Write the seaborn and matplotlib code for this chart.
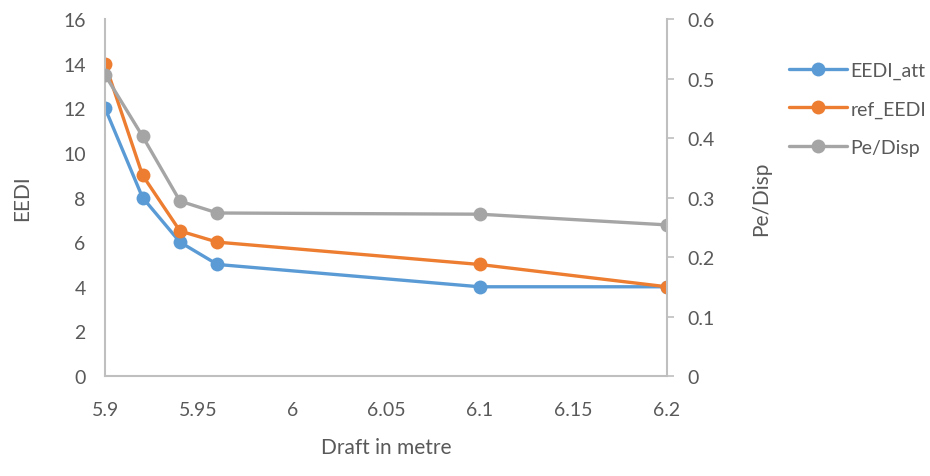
import matplotlib
matplotlib.use("Agg")
import matplotlib.pyplot as plt
from matplotlib.lines import Line2D
import seaborn as sns
import pandas as pd

# Draft values and the three measured series
draft = [5.9, 5.92, 5.94, 5.96, 6.1, 6.2]
eedi_att = [12, 8, 6, 5, 4, 4]
ref_eedi = [14, 9, 6.5, 6, 5, 4]
pe_disp = [0.506, 0.403, 0.294, 0.274, 0.272, 0.254]

x_ticks = [5.9, 5.95, 6.0, 6.05, 6.1, 6.15, 6.2]
x_tick_labels = ["5.9", "5.95", "6", "6.05", "6.1", "6.15", "6.2"]
left_ticks = [0, 2, 4, 6, 8, 10, 12, 14, 16]
right_ticks = [0, 0.1, 0.2, 0.3, 0.4, 0.5, 0.6]
right_tick_labels = ["0", "0.1", "0.2", "0.3", "0.4", "0.5", "0.6"]

sns.set_theme(style="white")
plt.rcParams["font.family"] = ["Lato", "DejaVu Sans"]

BLUE = "#5B9BD5"
ORANGE = "#ED7D31"
GRAY = "#A5A5A5"
TEXT = "#595959"
AXIS = "#BFBFBF"

df = pd.DataFrame({"draft": draft, "EEDI_att": eedi_att,
                   "ref_EEDI": ref_eedi, "Pe/Disp": pe_disp})

fig = plt.figure(figsize=(9.3, 4.77), dpi=100)
ax = fig.add_axes([0.113, 0.2096, 0.604, 0.7484])
ax2 = ax.twinx()

line_kw = dict(linewidth=2.4, marker="o", markersize=10, markeredgewidth=0)
sns.lineplot(data=df, x="draft", y="EEDI_att", ax=ax, color=BLUE, **line_kw)
sns.lineplot(data=df, x="draft", y="ref_EEDI", ax=ax, color=ORANGE, **line_kw)
sns.lineplot(data=df, x="draft", y="Pe/Disp", ax=ax2, color=GRAY, **line_kw)

ax.set_xlim(5.9, 6.2)
ax.set_ylim(0, 16)
ax2.set_ylim(0, 0.6)
ax.set_xticks(x_ticks)
ax.set_xticklabels(x_tick_labels)
ax.set_yticks(left_ticks)
ax2.set_yticks(right_ticks)
ax2.set_yticklabels(right_tick_labels)

for a in (ax, ax2):
    for s in a.spines.values():
        s.set_visible(False)
    a.grid(False)

ax.spines["left"].set_visible(True)
ax.spines["left"].set_color(AXIS)
ax.spines["left"].set_linewidth(1.5)
ax.spines["bottom"].set_visible(True)
ax.spines["bottom"].set_color(AXIS)
ax.spines["bottom"].set_linewidth(1.5)
ax2.spines["right"].set_visible(True)
ax2.spines["right"].set_color(AXIS)
ax2.spines["right"].set_linewidth(1.5)

ax.tick_params(axis="both", which="both", length=0, labelsize=14,
               labelcolor=TEXT)
ax.tick_params(axis="y", pad=14)
ax.tick_params(axis="x", pad=18)
ax2.tick_params(axis="y", length=5, width=1.2, color=AXIS, direction="out",
                labelsize=14, labelcolor=TEXT, pad=10)

ax.set_xlabel("Draft in metre", fontsize=15, color=TEXT, labelpad=14)
ax.set_ylabel("EEDI", fontsize=15, color=TEXT, labelpad=22)
ax2.set_ylabel("Pe/Disp", fontsize=15, color=TEXT, labelpad=26)

handles = [Line2D([], [], color=c, linewidth=2.4, marker="o", markersize=10,
                  markeredgewidth=0) for c in (BLUE, ORANGE, GRAY)]
fig.legend(handles, ["EEDI_att", "ref_EEDI", "Pe/Disp"],
           loc="upper left", bbox_to_anchor=(0.84, 0.885), frameon=False,
           fontsize=14, labelcolor=TEXT, handlelength=3.0, handletextpad=0.15,
           labelspacing=1.1, borderaxespad=0)

fig.savefig("out.png", dpi=100)
